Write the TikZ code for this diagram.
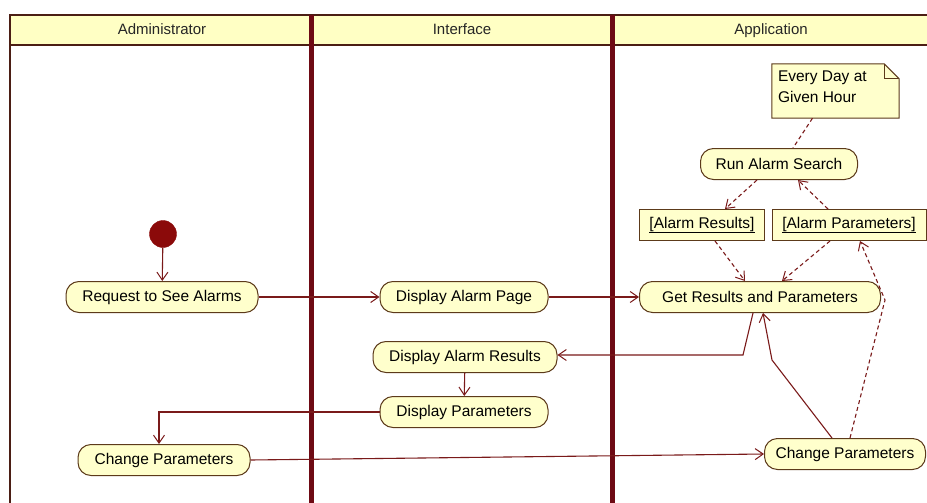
\documentclass[tikz,border=0pt]{standalone}
\usepackage{fontspec}
\setmainfont{Liberation Sans}
\usetikzlibrary{arrows.meta,calc}

\definecolor{laneline}{HTML}{6E0A14}
\definecolor{headborder}{HTML}{4B1E14}
\definecolor{headfill}{HTML}{FFFFC4}
\definecolor{nodefill}{HTML}{FFFFCC}
\definecolor{nodeline}{HTML}{5C3A1A}
\definecolor{flowline}{HTML}{7A1A1A}
\definecolor{initfill}{HTML}{8B0A0A}

\tikzset{
  action/.style={draw=nodeline, fill=nodefill, rounded corners=13pt,
    minimum height=31pt, line width=1pt, inner sep=0pt,
    font=\fontsize{15.5}{18}\selectfont},
  objbox/.style={draw=nodeline, fill=nodefill, minimum height=31pt,
    line width=1pt, inner sep=0pt, font=\fontsize{15.5}{18}\selectfont},
  lanetitle/.style={anchor=base, font=\fontsize{15}{17}\selectfont, text=black!85},
  flow/.style={draw=flowline, line width=1.1pt,
    -{Straight Barb[length=8pt,width=11pt,line width=1pt]}},
  dflow/.style={flow, dash pattern=on 4pt off 3pt},
  dlink/.style={draw=flowline, line width=1.1pt, dash pattern=on 4pt off 3pt},
}

\begin{document}
\begin{tikzpicture}[x=1pt,y=-1pt]
\useasboundingbox (0,0) rectangle (927,503);
\fill[white] (0,0) rectangle (927,503);
\clip (0,0) rectangle (927,503);

% swimlane header band
\draw[headborder, line width=2.5pt, fill=headfill] (10,15) rectangle (945,45);
\node[lanetitle] (lanA) at (162,35) {Administrator};
\node[lanetitle] (lanB) at (462,35) {Interface};
\node[lanetitle] (lanC) at (771,35) {Application};

% lane borders
\draw[headborder, line width=2.5pt] (10,15) -- (10,510);
\draw[laneline, line width=5pt] (311,15) -- (311,510);
\draw[laneline, line width=5pt] (612,15) -- (612,510);

% activities
\node[circle, fill=initfill, draw=initfill, minimum size=27pt, inner sep=0pt] (init) at (163,234) {};
\node[action, minimum width=192pt] (req) at (162,297) {Request to See Alarms};
\node[action, minimum width=172pt] (cpa) at (164,460) {Change Parameters};
\node[action, minimum width=168pt] (dap) at (464,297) {Display Alarm Page};
\node[action, minimum width=184pt] (dar) at (465,357) {Display Alarm Results};
\node[action, minimum width=168pt] (dp) at (464,412) {Display Parameters};
\node[action, minimum width=241pt] (grp) at (760,297) {Get Results and Parameters};
\node[action, minimum width=157pt] (ras) at (779,164) {Run Alarm Search};
\node[action, minimum width=161pt] (cpb) at (845,454) {Change Parameters};

% object flows
\node[objbox, minimum width=125pt] (ares) at (702,225) {\underline{[Alarm Results]}};
\node[objbox, minimum width=154pt] (apar) at (849,225) {\underline{[Alarm Parameters]}};

% note with folded corner
\node[minimum width=127pt, minimum height=54pt, inner sep=0pt] (note) at (835.5,91) {};
\fill[nodefill] (note.north west) -- ([xshift=-15pt]note.north east)
  -- ([yshift=-15pt]note.north east) -- (note.south east) -- (note.south west) -- cycle;
\draw[nodeline, line width=1pt] (note.north west) -- ([xshift=-15pt]note.north east)
  -- ([yshift=-15pt]note.north east) -- (note.south east) -- (note.south west) -- cycle;
\draw[nodeline, line width=1pt] ([xshift=-15pt]note.north east) -- ++(0,15) -- ++(15,0);
\node[anchor=north west, align=left, inner sep=0pt, font=\fontsize{15.5}{21}\selectfont]
  (notetext) at ([xshift=6pt,yshift=-7pt]note.north west) {Every Day at\\Given Hour};

% control flows
\draw[flow] (init) -- (req);
\draw[flow] (req) -- (dap);
\draw[flow] (dap) -- (grp);
\coordinate (b1) at (743,355);
\draw[flow] ([xshift=-7pt]grp.south) -- (b1) -- (dar.east |- b1);
\draw[flow] (dar) -- (dp);
\draw[flow] (dp.west) -| ([xshift=-5pt]cpa.north);
\draw[flow] (cpa.east) -- (cpb.west);
\coordinate (b2) at (772,360);
\draw[flow] ([xshift=-13pt]cpb.north) -- (b2) -- ([xshift=3pt]grp.south);

% data flows
\coordinate (b3) at (885,300);
\draw[dflow] ([xshift=5pt]cpb.north) -- (b3) -- ([xshift=11pt]apar.south);
\draw[dflow] ([xshift=13pt]ares.south) -- ([xshift=-15pt]grp.north);
\draw[dflow] ([xshift=-19pt]apar.south) -- ([xshift=22pt]grp.north);
\draw[dflow] ([xshift=-22pt]ras.south) -- ([xshift=23pt]ares.north);
\draw[dflow] ([xshift=-21pt]apar.north) -- ([xshift=19pt]ras.south);
\draw[dlink] ([xshift=-23pt]note.south) -- ([xshift=14pt]ras.north);
\end{tikzpicture}
\end{document}
